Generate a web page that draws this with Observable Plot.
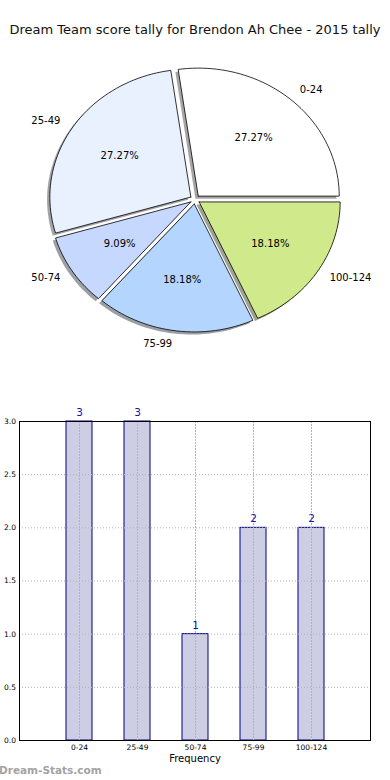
<!DOCTYPE html>
<html>
<head>
<meta charset="utf-8">
<script src="https://cdn.jsdelivr.net/npm/d3@7"></script>
<script src="https://cdn.jsdelivr.net/npm/@observablehq/plot@0.6"></script>
<style>
  html, body { margin: 0; padding: 0; background: #fff; }
  #page { position: relative; width: 390px; height: 780px; background: #fff; overflow: hidden; font-family: "DejaVu Sans", sans-serif; }
  #title { position: absolute; left: 0; width: 390px; top: 22px; text-align: center; font-size: 13px; line-height: 15px; color: #111; white-space: nowrap; }
  #pie { position: absolute; left: 0; top: 0; }
  #bar { position: absolute; left: 0; top: 380px; }
  #wm { position: absolute; left: -1px; top: 764px; font-size: 10.5px; font-weight: bold; color: #a3a3a3; white-space: nowrap; }
  svg { overflow: visible; }
</style>
</head>
<body>
<div id="page">
  <div id="pie"></div>
  <div id="title">Dream Team score tally for Brendon Ah Chee - 2015 tally</div>
  <div id="bar"></div>
  <div id="wm">Dream-Stats.com</div>
</div>
<script>
// ---- data ----
const categories = ["0-24", "25-49", "50-74", "75-99", "100-124"];
const counts = [3, 3, 1, 2, 2];
const percentLabels = ["27.27%", "27.27%", "9.09%", "18.18%", "18.18%"];
const pieColors = ["#ffffff", "#e9f0fe", "#c6d8fe", "#b4d6fe", "#cfe98b"];
const yTicks = [0, 0.5, 1.0, 1.5, 2.0, 2.5, 3.0];
const xLabel = ["Frequency"];

// ---- pie geometry (unit radius, matplotlib-style CCW from 3 o'clock) ----
const explode = 0.035;
const total = d3.sum(counts);
const cum = d3.cumsum(counts);
const slices = categories.map((cat, i) => {
  const a0 = (cum[i] - counts[i]) / total * 2 * Math.PI;
  const a1 = cum[i] / total * 2 * Math.PI;
  const mid = (a0 + a1) / 2;
  const ox = explode * Math.cos(mid), oy = explode * Math.sin(mid);
  const n = Math.max(8, Math.ceil((a1 - a0) / (Math.PI / 90)));
  const pts = [{x: ox, y: oy}];
  for (let k = 0; k <= n; k++) {
    const a = a0 + (a1 - a0) * k / n;
    pts.push({x: ox + Math.cos(a), y: oy + Math.sin(a)});
  }
  pts.push({x: ox, y: oy});
  return {cat, count: counts[i], pct: percentLabels[i], color: pieColors[i], mid, ox, oy, pts};
});
const shadowColor = c => { const r = d3.rgb(c); return d3.rgb(r.r * 0.3, r.g * 0.3, r.b * 0.3).formatHex(); };

const font = "DejaVu Sans";
const pieMarks = [];
slices.forEach(s => pieMarks.push(Plot.line(s.pts, {x: "x", y: "y", fill: shadowColor(s.color), fillOpacity: 0.5, stroke: "none", dx: -2.8, dy: 2.6})));
slices.forEach(s => pieMarks.push(Plot.line(s.pts, {x: "x", y: "y", fill: s.color, stroke: "#000", strokeWidth: 0.8, strokeLinejoin: "miter"})));
const lx = s => s.ox + 1.1 * Math.cos(s.mid), ly = s => s.oy + 1.1 * Math.sin(s.mid);
pieMarks.push(Plot.text(slices.filter(s => lx(s) > 0), {x: lx, y: ly, text: "cat", textAnchor: "start", fontSize: 10, fill: "#000"}));
pieMarks.push(Plot.text(slices.filter(s => lx(s) <= 0), {x: lx, y: ly, text: "cat", textAnchor: "end", fontSize: 10, fill: "#000"}));
pieMarks.push(Plot.text(slices, {x: s => s.ox + 0.6 * Math.cos(s.mid), y: s => s.oy + 0.6 * Math.sin(s.mid), text: "pct", textAnchor: "middle", fontSize: 10, fill: "#000"}));

const pie = Plot.plot({
  width: 390, height: 380,
  marginLeft: 53.5, marginRight: 54.5, marginTop: 71, marginBottom: 53,
  style: {fontFamily: font, background: "transparent"},
  x: {domain: [-1, 1], axis: null},
  y: {domain: [-1, 1], axis: null},
  marks: pieMarks
});
document.getElementById("pie").appendChild(pie);

// ---- bar chart ----
const barData = categories.map((cat, i) => ({cat, count: counts[i]}));
const bar = Plot.plot({
  width: 390, height: 400,
  marginLeft: 19, marginRight: 20, marginTop: 41, marginBottom: 40,
  style: {fontFamily: font, background: "transparent"},
  x: {type: "band", domain: categories, paddingInner: 0.556, paddingOuter: 0.778, label: null},
  y: {domain: [0, 3], label: null},
  marks: [
    Plot.barY(barData, {x: "cat", y: "count", fill: "#cdcde4", stroke: "#000080", strokeWidth: 1}),
    Plot.gridY(yTicks, {stroke: "#b4b4b4", strokeOpacity: 1, strokeDasharray: "1,2"}),
    Plot.gridX(categories, {stroke: "#b4b4b4", strokeOpacity: 1, strokeDasharray: "2,1"}),
    Plot.frame({stroke: "#000", strokeWidth: 1}),
    Plot.text(barData, {x: "cat", y: "count", text: d => String(d.count), dy: -9, fontSize: 10.5, fill: "#14149a"}),
    Plot.axisY(yTicks, {tickSize: 0, tickPadding: 3.5, fontSize: 7.5, tickFormat: d3.format(".1f"), label: null}),
    Plot.axisX({tickSize: 0, tickPadding: 4.5, fontSize: 7.5, label: null}),
    Plot.text(xLabel, {frameAnchor: "bottom", text: d => d, dy: 21, fontSize: 10, fill: "#000"})
  ]
});
document.getElementById("bar").appendChild(bar);
</script>
</body>
</html>
